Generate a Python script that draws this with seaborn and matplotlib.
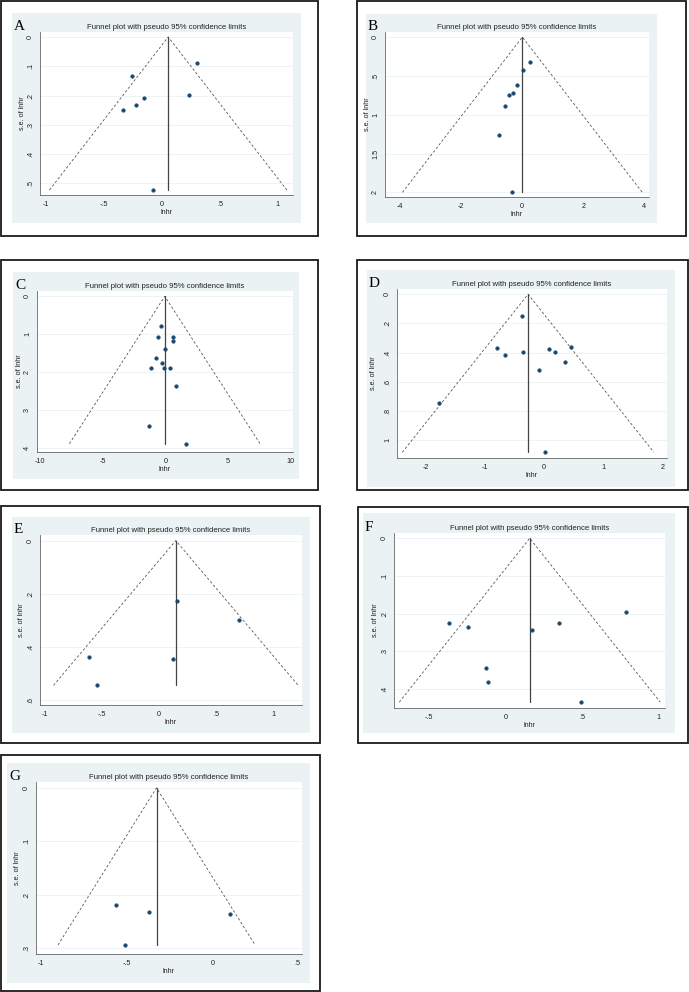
"""
Funnel plots (Stata style) for seven meta-analyses of log hazard ratios.
"""

import matplotlib
matplotlib.use("Agg")
import matplotlib.pyplot as plt
import seaborn as sns
import pandas as pd
import numpy as np
from matplotlib.patches import Rectangle

sns.set_style("white")
plt.rcParams['font.family'] = ['Liberation Sans', 'DejaVu Sans']

# ---- data: lnhr and s.e. of lnhr for every study ----
a_lnhr = [0.30, -0.26, 0.23, -0.16, -0.23, -0.34, -0.08]
a_se = [0.088, 0.134, 0.199, 0.207, 0.231, 0.251, 0.523]

b_lnhr = [0.27, 0.03, -0.15, -0.28, -0.43, -0.57, -0.75, -0.32]
b_se = [0.323, 0.427, 0.62, 0.724, 0.746, 0.888, 1.263, 2.0]

c_lnhr = [-0.35, -0.59, 0.59, 0.59, 0.0, -0.75, -0.24, -1.12, -0.11, 0.40, 0.83, -1.33, 1.63]
c_se = [0.78, 1.08, 1.08, 1.18, 1.38, 1.62, 1.76, 1.90, 1.90, 1.90, 2.36, 3.42, 3.89]

d_lnhr = [-0.367, -0.785, -0.661, -0.345, 0.079, 0.181, 0.452, 0.356, -0.09, -1.763, 0.023]
d_se = [0.148, 0.366, 0.414, 0.398, 0.377, 0.393, 0.359, 0.466, 0.518, 0.748, 1.084]

e_lnhr = [0.155, 0.697, -0.615, 0.120, -0.545]
e_se = [0.227, 0.300, 0.438, 0.444, 0.545]

f_lnhr = [-0.367, -0.245, 0.175, 0.349, 0.790, -0.127, -0.114, 0.496]
f_se = [0.224, 0.237, 0.243, 0.226, 0.197, 0.345, 0.383, 0.4355]

g_lnhr = [-0.5625, -0.369, 0.1035, -0.512]
g_se = [0.2186, 0.232, 0.236, 0.294]

# pooled (fixed effect) estimate: position of the vertical line
pooled_lnhr = [0.052, 0.01, -0.05, -0.266, 0.146, 0.159, -0.326]

panel_labels = ['A', 'B', 'C', 'D', 'E', 'F', 'G']

# axis ticks
x_ticks = [
    [-1, -0.5, 0, 0.5, 1],
    [-4, -2, 0, 2, 4],
    [-10, -5, 0, 5, 10],
    [-2, -1, 0, 1, 2],
    [-1, -0.5, 0, 0.5, 1],
    [-0.5, 0, 0.5, 1],
    [-1, -0.5, 0, 0.5],
]
y_ticks = [
    [0, 0.1, 0.2, 0.3, 0.4, 0.5],
    [0, 0.5, 1, 1.5, 2],
    [0, 1, 2, 3, 4],
    [0, 0.2, 0.4, 0.6, 0.8, 1],
    [0, 0.2, 0.4, 0.6],
    [0, 0.1, 0.2, 0.3, 0.4],
    [0, 0.1, 0.2, 0.3],
]

lnhr_all = [a_lnhr, b_lnhr, c_lnhr, d_lnhr, e_lnhr, f_lnhr, g_lnhr]
se_all = [a_se, b_se, c_se, d_se, e_se, f_se, g_se]

# ---- layout (pixels of a 689x992 canvas): outer box, background, plot area ----
W, H = 689, 992
boxes = [(1, 1, 318, 236), (357, 1, 686, 236), (1, 260, 318, 490), (357, 260, 688, 490),
         (1, 506, 320, 743), (358, 507, 688, 743), (1, 755, 320, 991)]
backs = [(12, 13, 301, 223), (366, 14, 657, 223), (13, 272, 299, 479), (367, 270, 675, 487),
         (12, 517, 310, 733), (363, 513, 675, 733), (7, 763, 310, 983)]
plots = [(40, 32, 293, 195), (385, 32, 649, 197), (37, 291, 293, 452), (397, 289, 667, 458),
         (40, 535, 302, 705), (394, 533, 665, 708), (36, 782, 302, 954)]
x_lims = [(-1.055, 1.13), (-4.48, 4.15), (-10.27, 10.21), (-2.48, 2.08),
          (-1.04, 1.248), (-0.729, 1.044), (-1.031, 0.525)]
y_lims = [(-0.017, 0.540), (-0.065, 2.06), (-0.14, 4.11), (-0.036, 1.123),
          (-0.021, 0.619), (-0.014, 0.451), (-0.011, 0.311)]
ylabel_off = [14, 14, 14, 20, 15, 15, 15]

BG = '#eaf2f3'
NAVY = '#1a476f'


def fig_rect(r):
    x0, y0, x1, y1 = r
    return [x0 / W, 1 - y1 / H, (x1 - x0) / W, (y1 - y0) / H]


def stata_fmt(v):
    s = f"{v:g}"
    if abs(v) < 1 and v != 0:
        s = s.replace("0.", ".")
    return s


fig = plt.figure(figsize=(W / 100, H / 100), dpi=100)

for i in range(7):
    bx = fig_rect(boxes[i])
    fig.add_artist(Rectangle((bx[0], bx[1]), bx[2], bx[3], transform=fig.transFigure,
                             fill=False, edgecolor='#1a1a1a', linewidth=1.3, zorder=-2))
    bg = fig_rect(backs[i])
    fig.add_artist(Rectangle((bg[0], bg[1]), bg[2], bg[3], transform=fig.transFigure,
                             facecolor=BG, edgecolor='none', zorder=-1))

    ax = fig.add_axes(fig_rect(plots[i]))
    ax.set_facecolor('white')

    df = pd.DataFrame({'lnhr': lnhr_all[i], 'se': se_all[i]})
    theta = pooled_lnhr[i]
    smax = df['se'].max()

    # pseudo 95% confidence limits
    ax.plot([theta - 1.96 * smax, theta, theta + 1.96 * smax], [smax, 0, smax],
            color='#555555', linewidth=0.6, linestyle=(0, (3, 2.5)), zorder=2)
    ax.plot([theta, theta], [0, smax], color='#444444', linewidth=0.9, zorder=2)

    sns.scatterplot(data=df, x='lnhr', y='se', ax=ax, color=NAVY, s=7,
                    marker='o', edgecolor=NAVY, linewidth=0.3, zorder=3)

    ax.set_xlim(*x_lims[i])
    ax.set_ylim(y_lims[i][1], y_lims[i][0])
    ax.set_xticks(x_ticks[i])
    ax.set_xticklabels([stata_fmt(v) for v in x_ticks[i]])
    ax.set_yticks(y_ticks[i])
    ax.set_yticklabels([stata_fmt(v) for v in y_ticks[i]], rotation=90, va='center')
    ax.tick_params(axis='both', length=3, width=0.5, color='#666666', pad=1.2,
                   labelsize=5.2, labelcolor='#222222')
    ax.grid(axis='y', color=BG, linewidth=0.6)
    ax.grid(axis='x', visible=False)
    for side in ['top', 'right']:
        ax.spines[side].set_visible(False)
    for side in ['left', 'bottom']:
        ax.spines[side].set_color('#666666')
        ax.spines[side].set_linewidth(0.6)

    ax.set_xlabel('lnhr', fontsize=5.2, color='#222222', labelpad=0.5)
    ax.set_ylabel('s.e. of lnhr', fontsize=5.2, color='#222222')
    pw = plots[i][2] - plots[i][0]
    ax.yaxis.set_label_coords(-ylabel_off[i] / pw, 0.5)

    # title and panel letter
    px0, py0, px1, py1 = plots[i]
    fig.text(((px0 + px1) / 2) / W, 1 - (py0 - 3) / H,
             'Funnel plot with pseudo 95% confidence limits',
             ha='center', va='baseline', fontsize=5.6, color='#222222')
    fig.text((backs[i][0] + 2) / W, 1 - (py0 - 2) / H, panel_labels[i],
             ha='left', va='baseline', fontsize=11, color='black',
             family=['Liberation Serif', 'DejaVu Serif'])

fig.savefig('out.png', dpi=100)
plt.close()
